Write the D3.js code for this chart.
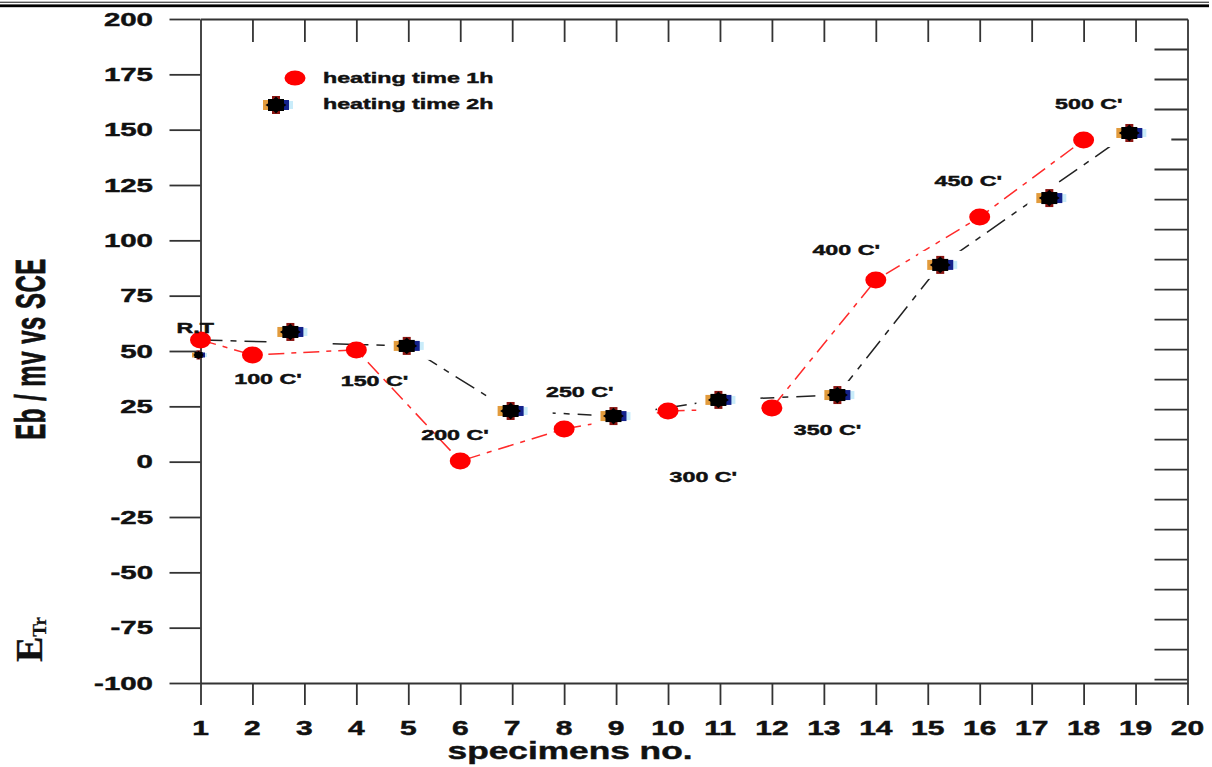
<!DOCTYPE html>
<html>
<head>
<meta charset="utf-8">
<script src="https://cdn.jsdelivr.net/npm/d3@7"></script>
<style>
  html, body { margin: 0; padding: 0; background: #fff; }
  svg { display: block; }
  text { font-family: "Liberation Sans", Arial, sans-serif; font-weight: bold; fill: #111; stroke: #111; stroke-width: 0.45px; }
</style>
</head>
<body>
<svg id="chart" width="1212" height="767"></svg>
<script>
// Breakdown potential Eb (mV vs SCE) per specimen, two heating times
const xTicks = [1,2,3,4,5,6,7,8,9,10,11,12,13,14,15,16,17,18,19,20];
const yTicks = [-100,-75,-50,-25,0,25,50,75,100,125,150,175,200];
const rightTicks = [1,2,3,4,5,6,7,8,9,10,11,12,13,14,15,16,17,18,19,20,21,22];

// heating time 1h
const spec1h = [1, 2, 4, 6, 8, 10, 12, 14, 16, 18];
const eb1h   = [55, 48.2, 50.5, 0.3, 14.8, 22.9, 24.3, 82.1, 110.5, 145.3];

// heating time 2h (markers)
const spec2h = [2.73, 4.97, 6.97, 8.95, 10.97, 13.26, 15.24, 17.34, 18.88];
const eb2h   = [58.6, 52.3, 22.9, 20.6, 27.9, 30.1, 88.9, 119.1, 148.5];
// small 2h marker at the room-temperature specimen
const specRT2h = [1];
const ebRT2h   = [48.2];

// dashed trend line for the 2h series
const trendSpec2h = [1, 4.97, 6.97, 8.95, 10.97, 13.26, 15.24, 18.88];
const trendEb2h   = [55, 52.3, 22.9, 20.6, 27.9, 30.1, 88.9, 148.5];

// treatment-temperature annotations, anchored in data units
const tempLabels = ["R.T", "100 C'", "150 C'", "200 C'", "250 C'", "300 C'", "350 C'", "400 C'", "450 C'", "500 C'"];
const tempLabelSpec = [0.9, 2.3, 4.35, 5.9, 8.3, 10.68, 13.07, 13.43, 15.78, 18.1];
const tempLabelEb   = [60.5, 37.5, 36.5, 12, 31.5, -6.9, 14.3, 95.6, 126.8, 161.6];

const legendLabels = ["heating time 1h", "heating time 2h"];

const svg = d3.select("#chart");

// plot area
const plotLeft = 200.5, plotRight = 1187.5, plotTop = 19, plotBottom = 683;
const x = d3.scaleLinear().domain([1, 20]).range([plotLeft, plotRight]);
const y = d3.scaleLinear().domain([-100, 200]).range([plotBottom, plotTop]);
const yRight = d3.scaleLinear().domain([0, 22.13]).range([plotTop, plotBottom]);

// page header rules
svg.append("rect").attr("x", 0).attr("y", 1.6).attr("width", 1209).attr("height", 1.4).attr("fill", "#555");
svg.append("rect").attr("x", 0).attr("y", 4.4).attr("width", 1209).attr("height", 2.8).attr("fill", "#000");

// text drawn with a horizontal stretch
function stretched(g, px, py, str, size, sx, anchor) {
  return g.append("text")
    .attr("transform", `translate(${px},${py}) scale(${sx},1)`)
    .attr("text-anchor", anchor || "middle")
    .attr("dominant-baseline", "central")
    .style("font-size", size + "px")
    .text(str);
}

function styleAxis(g) {
  g.selectAll("path.domain").attr("stroke", "#333").attr("stroke-width", 1.8);
  g.selectAll(".tick line").attr("stroke", "#333").attr("stroke-width", 1.8);
}

// left axis with outward ticks
const gLeft = svg.append("g").attr("transform", `translate(${plotLeft},0)`)
  .call(d3.axisLeft(y).tickValues(yTicks).tickSize(31).tickSizeOuter(0).tickFormat(""));
styleAxis(gLeft);
gLeft.selectAll(".tick text").remove();
yTicks.forEach(v => stretched(svg, 153, y(v), String(v), 19, 1.55, "end"));

// bottom axis with downward ticks
const gBottom = svg.append("g").attr("transform", `translate(0,${plotBottom})`)
  .call(d3.axisBottom(x).tickValues(xTicks).tickSize(22).tickSizeOuter(0).tickFormat(""));
styleAxis(gBottom);
gBottom.selectAll(".tick text").remove();
xTicks.forEach(v => stretched(svg, x(v), 728, String(v), 20, 1.5, "middle"));

// top frame with inward ticks
const gTop = svg.append("g").attr("transform", `translate(0,${plotTop})`)
  .call(d3.axisBottom(x).tickValues(xTicks.slice(1, -1)).tickSize(23).tickSizeOuter(0).tickFormat(""));
styleAxis(gTop);

// right frame with inward ticks
const gRight = svg.append("g").attr("transform", `translate(${plotRight},0)`)
  .call(d3.axisLeft(yRight).tickValues(rightTicks).tickSize(33).tickSizeOuter(0).tickFormat(""));
styleAxis(gRight);

// axis titles
svg.append("text")
  .attr("transform", `translate(45,349) scale(1.75,1) rotate(-90)`)
  .attr("text-anchor", "middle")
  .style("font-size", "24px")
  .style("letter-spacing", "0.5px")
  .text("Eb / mv vs SCE");

svg.append("text")
  .attr("transform", `translate(570,759) scale(1.47,1)`)
  .attr("text-anchor", "middle")
  .style("font-size", "24px")
  .text("specimens no.");

const eTr = svg.append("text")
  .attr("transform", `translate(42,662) rotate(-90)`)
  .attr("text-anchor", "start")
  .style("font-family", "'Liberation Serif', 'DejaVu Serif', serif")
  .style("font-size", "38px")
  .style("stroke-width", "0.3px");
eTr.append("tspan").text("E");
eTr.append("tspan").attr("dy", 4).style("font-size", "19px").text("Tr");

// dashed connecting lines
const line = d3.line().x(d => x(d[0])).y(d => y(d[1]));

svg.append("path")
  .datum(trendSpec2h.map((s, i) => [s, trendEb2h[i]]))
  .attr("d", line)
  .attr("fill", "none")
  .attr("stroke", "#222")
  .attr("stroke-width", 1.5)
  .attr("stroke-dasharray", "22,8,6,8");

svg.append("path")
  .datum(spec1h.map((s, i) => [s, eb1h[i]]))
  .attr("d", line)
  .attr("fill", "none")
  .attr("stroke", "#ff2a2a")
  .attr("stroke-width", 1.5)
  .attr("stroke-dasharray", "16,7,5,7");

// star-shaped marker for the 2h series
const starPts = d3.range(16).map(k => {
  const a = k * Math.PI / 8;
  const r = k % 2 === 0 ? 10.5 : 7.5;
  return [r * Math.cos(a), r * Math.sin(a) * 0.8];
});
function starMarker(g, cx, cy, s, withBox) {
  const m = g.append("g").attr("transform", `translate(${cx},${cy}) scale(${s})`);
  if (withBox) {
    m.append("rect").attr("x", -22).attr("y", -14).attr("width", 64).attr("height", 28).attr("fill", "#fff");
  }
  m.append("rect").attr("x", 7).attr("y", -4).attr("width", 10).attr("height", 8).attr("fill", "#c9ecfa");
  m.append("rect").attr("x", -13).attr("y", -5).attr("width", 6).attr("height", 10).attr("fill", "#e29b3c");
  m.append("rect").attr("x", 7).attr("y", -5).attr("width", 6).attr("height", 10).attr("fill", "#14228c");
  m.append("rect").attr("x", -4).attr("y", -9).attr("width", 8).attr("height", 18).attr("fill", "#8a1612");
  m.append("polygon").attr("points", starPts.map(p => p.join(",")).join(" ")).attr("fill", "#000");
  m.append("rect").attr("x", -8).attr("y", -6).attr("width", 16).attr("height", 12).attr("fill", "#000");
  return m;
}

spec2h.forEach((s, i) => starMarker(svg, x(s), y(eb2h[i]), 1, true));
specRT2h.forEach((s, i) => starMarker(svg, x(s) - 2, y(ebRT2h[i]), 0.5, false));

// 1h markers
svg.selectAll("ellipse.m1h")
  .data(spec1h.map((s, i) => [s, eb1h[i]]))
  .join("ellipse")
  .attr("class", "m1h")
  .attr("cx", d => x(d[0]))
  .attr("cy", d => y(d[1]))
  .attr("rx", 10.5)
  .attr("ry", 8.5)
  .attr("fill", "#ff0000");

// temperature annotations
tempLabels.forEach((t, i) =>
  stretched(svg, x(tempLabelSpec[i]), y(tempLabelEb[i]), t, 15, 1.55, "middle"));

// legend
const legend = svg.append("g");
legend.append("ellipse").attr("cx", 295).attr("cy", 78).attr("rx", 10.5).attr("ry", 7.5).attr("fill", "#ff0000");
stretched(legend, 323, 78, legendLabels[0], 15, 1.55, "start");
starMarker(legend, 276, 105, 1, true);
stretched(legend, 323, 104, legendLabels[1], 15, 1.55, "start");
</script>
</body>
</html>
